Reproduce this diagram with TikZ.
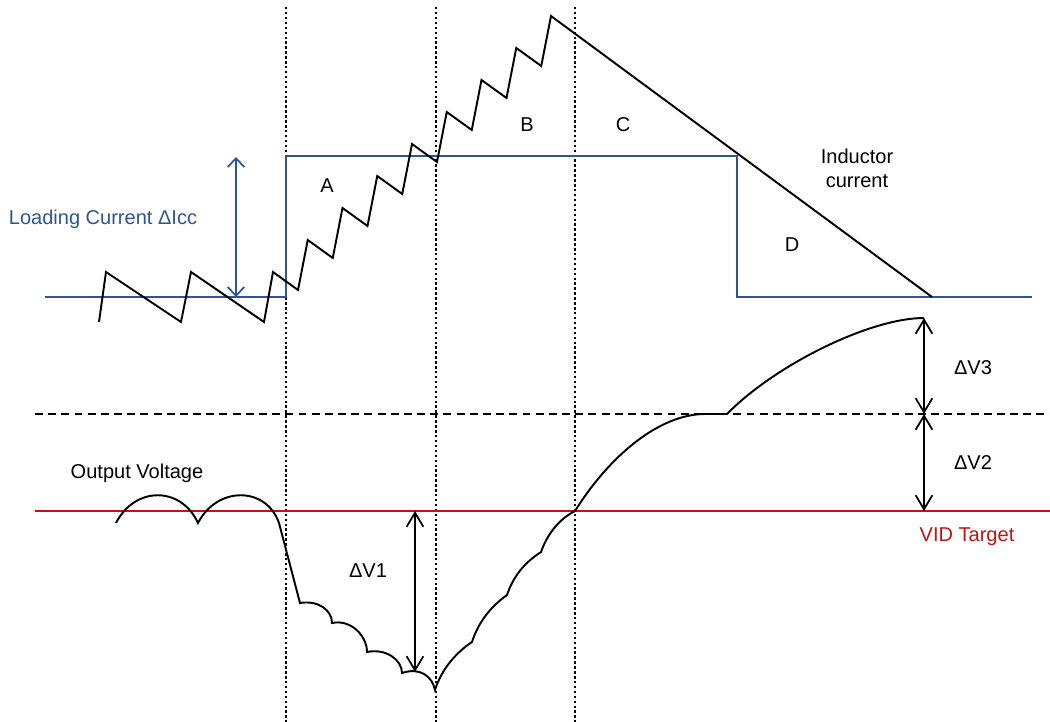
\documentclass[tikz,border=0pt]{standalone}
\usepackage{fontspec}
\setmainfont{Liberation Sans}
\usetikzlibrary{arrows.meta,calc}
\definecolor{curblue}{RGB}{46,84,150}
\definecolor{vidred}{RGB}{200,16,16}

\begin{document}
\begin{tikzpicture}[x=0.02cm,y=-0.02cm,>={Straight Barb[length=8pt,width=9.5pt]},
  wave/.style={line width=1.1pt,line join=miter},
  lvl/.style={line width=1pt},
  guide/.style={line width=0.7pt,dash pattern=on 1.4pt off 1.4pt},
  half/.style={line width=0.9pt,dash pattern=on 4.5pt off 3pt},
  lbl/.style={font=\fontsize{11.4}{13.6}\selectfont,inner sep=0pt}]
\useasboundingbox (0,0) rectangle (1050,722);
% time markers
\foreach \x/\n in {286/ta,436/tb,575/tc} \draw[guide] (\x,7) coordinate (\n) -- (\x,722);
% load step and inductor ripple
\draw[lvl,curblue] (45,297) -- (286,297) -- (286,156) -- (737,156) -- (737,297) -- (1032,297);
\coordinate (ilo) at (236,297); \coordinate (ihi) at (236,157);
\draw[lvl,curblue,<->,>={Straight Barb[length=5pt,width=9.5pt]}] (ihi) -- (ilo);
\draw[wave] (99,322) -- (106,272) -- (181,322) -- (191,272) -- (264,322)
  \foreach \i in {0,...,7} { -- ({273+34.75*\i},{272-32*\i}) -- ({298+34.75*\i},{290-32*\i}) }
  -- (551,16) coordinate (ipk) -- (932,297) coordinate (iend);
\node[lbl,curblue] (load) at (103,219) {Loading Current ΔIcc};
\node[lbl] (ra) at (327,186) {A}; \node[lbl] (rb) at (527,125) {B};
\node[lbl] (rc) at (623,125) {C}; \node[lbl] (rd) at (792,245) {D};
\node[lbl,align=center] (ind) at (857,168) {Inductor\\current};
% output voltage
\draw[half] (35,414) -- (1050,414);
\draw[lvl,vidred] (35,511) -- (1050,511);
\draw[wave] (116,523) .. controls (135,486) and (181,486) .. (198,523)
  .. controls (217,486) and (266,486) .. (279,523) -- (300,603)
  .. controls (318,600) and (332,610) .. (332,623)
  .. controls (351,619) and (367,636) .. (367,652)
  .. controls (386,648) and (402,660) .. (402,673)
  .. controls (420,667) and (432,676) .. (435,690) coordinate (vmin)
  .. controls (442,668) and (457,652) .. (472,642)
  .. controls (479,620) and (493,605) .. (507,595)
  .. controls (514,574) and (527,561) .. (541,552)
  .. controls (548,532) and (561,518) .. (575,511)
  .. controls (610,455) and (660,414) .. (705,414) -- (727,414)
  .. controls (775,365) and (870,318) .. (924,318) coordinate (vpk);
\coordinate (v1top) at (415,511); \coordinate (v1bot) at (415,672);
\coordinate (vmid) at (924,414); \coordinate (vtgt) at (924,511);
\draw[lvl,<->] (v1top) -- (v1bot);
\draw[lvl,<->] (vpk) -- (vmid);
\draw[lvl,<->] (vmid) -- (vtgt);
\node[lbl] (ov) at (137,473) {Output Voltage};
\node[lbl,vidred] (vid) at (967,537) {VID Target};
\node[lbl] (dv1) at (368,571) {ΔV1};
\node[lbl] (dv3) at (973,368) {ΔV3};
\node[lbl] (dv2) at (973,463) {ΔV2};
\end{tikzpicture}
\end{document}
